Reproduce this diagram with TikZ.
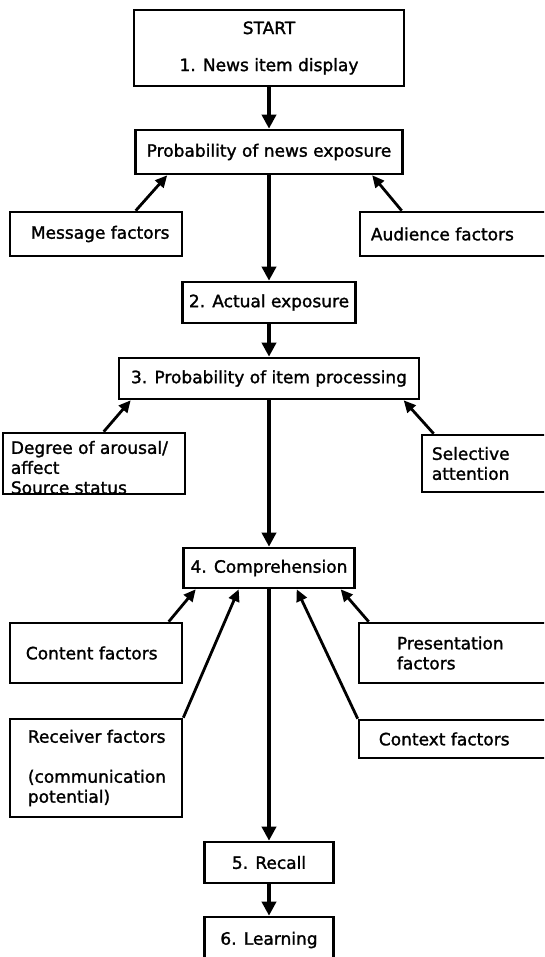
\documentclass[tikz,border=0pt]{standalone}
\usepackage{fontspec}
\setmainfont[FakeBold=1.5]{DejaVu Sans}
\usetikzlibrary{arrows.meta,calc}

\newcommand\diagfont{\fontsize{17}{20}\selectfont}

\begin{document}
\begin{tikzpicture}[x=1pt,y=-1pt,
  box/.style={draw,line width=2.6pt,inner sep=0pt,font=\diagfont,align=center},
  lbl/.style={inner sep=0pt,font=\diagfont,align=left,anchor=west},
  flow/.style={line width=3.6pt,-{Triangle[length=14pt,width=14pt]}},
  feed/.style={line width=2.8pt,-{Triangle[length=12pt,width=11pt]}}]

\useasboundingbox (0,0) rectangle (544,957);
\fill[white] (0,0) rectangle (544,957);
\clip (0,0) rectangle (544,957);

% main sequence of stages
\node[box,minimum width=270,minimum height=76] (start) at (269,48)
  {START\\[17pt]1. News item display};
\node[box,minimum width=267,minimum height=44] (pne) at (269,152)
  {Probability of news exposure};
\node[box,minimum width=173,minimum height=41] (act) at (269,302.5)
  {2. Actual exposure};
\node[box,minimum width=300,minimum height=41] (proc) at (269,378.5)
  {3. Probability of item processing};
\node[box,minimum width=171,minimum height=40] (comp) at (269,568)
  {4. Comprehension};
\node[box,minimum width=129,minimum height=41] (recall) at (269,862.5)
  {5. Recall};
\node[box,minimum width=129,minimum height=46] (learn) at (269,940)
  {6. Learning};

% influencing factors
\node[box,minimum width=172,minimum height=44] (msg) at (96,234) {};
\node[lbl] (msgT) at ($(msg.west)+(22,0)$) {Message factors};
\node[box,minimum width=202,minimum height=44] (aud) at (461,234) {};
\node[lbl] (audT) at ($(aud.west)+(12,0)$) {Audience factors};

\node[box,minimum width=182,minimum height=61] (deg) at (94,463.5) {};
\node[lbl] (degT) at ($(deg.west)+(9,4)$)
  {Degree of arousal/\\affect\\Source status};
\node[box,minimum width=140,minimum height=57] (sel) at (492,463.5) {};
\node[lbl] (selT) at ($(sel.west)+(11,0)$) {Selective\\attention};

\node[box,minimum width=172,minimum height=60] (cont) at (96,653) {};
\node[lbl] (contT) at ($(cont.west)+(17,0)$) {Content factors};
\node[box,minimum width=203,minimum height=60] (pres) at (460.5,653) {};
\node[lbl] (presT) at ($(pres.west)+(39,0)$) {Presentation\\factors};

\node[box,minimum width=172,minimum height=98] (recv) at (96,768) {};
\node[lbl] (recvT) at ($(recv.west)+(19,0)$)
  {Receiver factors\\[20pt](communication\\potential)};
\node[box,minimum width=203,minimum height=38] (ctx) at (460.5,739) {};
\node[lbl] (ctxT) at ($(ctx.west)+(21,0)$) {Context factors};

% flow between stages
\draw[flow] (start.south) -- (pne.north);
\draw[flow] (pne.south) -- (act.north);
\draw[flow] (act.south) -- (proc.north);
\draw[flow] (proc.south) -- (comp.north);
\draw[flow] (comp.south) -- (recall.north);
\draw[flow] (recall.south) -- (learn.north);

% factor influences
\draw[feed] ($(msg.north west)+(127,0)$) -- ($(pne.south west)+(33,0)$);
\draw[feed] ($(aud.north west)+(43,0)$) -- ($(pne.south west)+(238,0)$);
\draw[feed] ($(deg.north west)+(102,0)$) -- ($(proc.south west)+(13,0)$);
\draw[feed] ($(sel.north west)+(13,0)$) -- ($(proc.south west)+(286,0)$);
\draw[feed] ($(cont.north west)+(160,0)$) -- ($(comp.south west)+(13.5,0)$);
\draw[feed] (recv.north east) -- ($(comp.south west)+(56.5,0)$);
\draw[feed] (ctx.north west) -- ($(comp.south west)+(114.5,0)$);
\draw[feed] ($(pres.north west)+(11,0)$) -- ($(comp.south west)+(158.5,0)$);

\end{tikzpicture}
\end{document}
